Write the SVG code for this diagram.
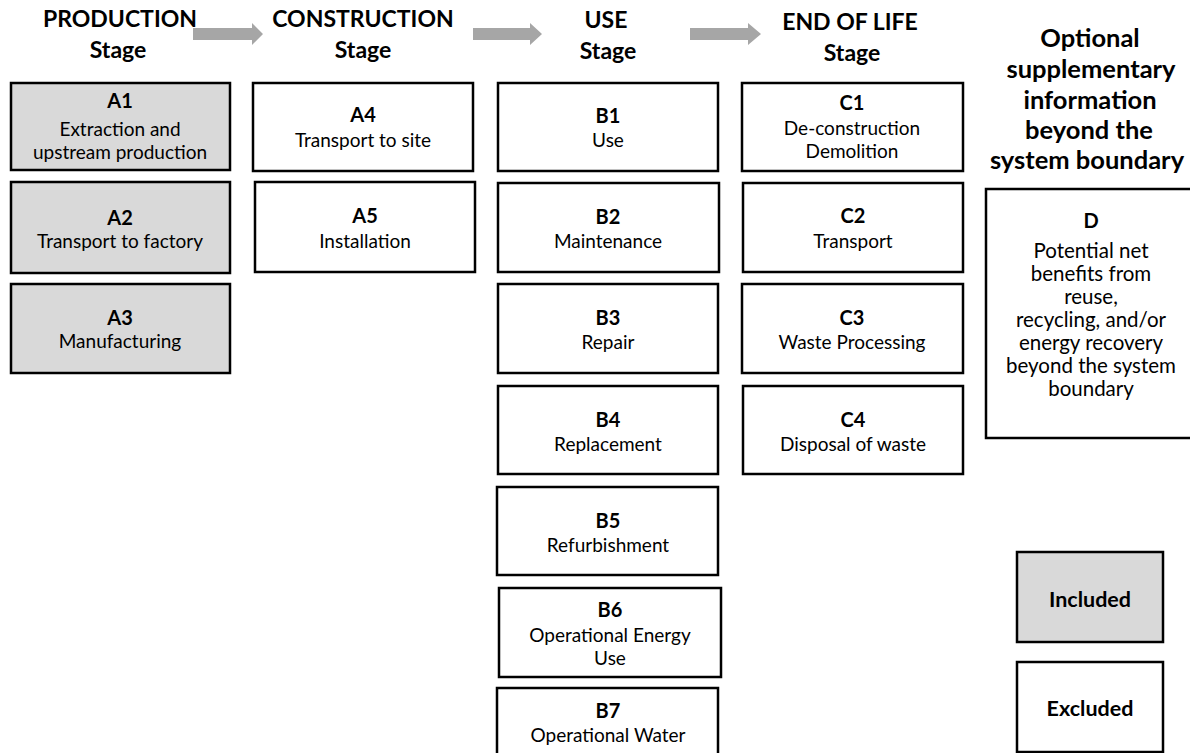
<svg xmlns="http://www.w3.org/2000/svg" width="1190" height="753" viewBox="0 0 1190 753">
<style>
.box{stroke:#000;stroke-width:2.5;fill:#fff}
.inc{fill:#d9d9d9}
.t{font-family:Lato,"Liberation Sans",sans-serif;font-size:19px;fill:#000;text-anchor:middle}
.b{font-weight:bold;font-size:20px}
.d{font-size:20.5px}
.lg{font-weight:bold;font-size:21.5px}
.h{font-family:Lato,"Liberation Sans",sans-serif;font-size:23px;font-weight:bold;fill:#000;text-anchor:middle}
.o{font-size:25.5px}
.arr{fill:#a6a6a6}
</style>
<rect width="1190" height="753" fill="#fff"/>
<g id="connectors">
<polygon class="arr" points="193,28 252,28 252,23 263,34 252,45 252,40 193,40"/>
<polygon class="arr" points="473,28 530,28 530,23 542,34 530,45 530,40 473,40"/>
<polygon class="arr" points="690,28 748,28 748,23 761,34 748,45 748,40 690,40"/>
</g>
<g id="title-production"><text class="h" x="120" y="27">PRODUCTION</text><text class="h" x="118" y="58">Stage</text></g>
<g id="title-construction"><text class="h" x="363" y="27">CONSTRUCTION</text><text class="h" x="363" y="58">Stage</text></g>
<g id="title-use"><text class="h" x="606" y="28">USE</text><text class="h" x="608" y="59">Stage</text></g>
<g id="title-eol"><text class="h" x="850" y="30">END OF LIFE</text><text class="h" x="852" y="61">Stage</text></g>
<g id="title-optional"><text class="h o" x="1090" y="47">Optional</text><text class="h o" x="1091" y="78">supplementary</text><text class="h o" x="1090" y="109">information</text><text class="h o" x="1089" y="139">beyond the</text><text class="h o" x="1087" y="169">system boundary</text></g>

<g id="A1"><rect class="box inc" x="11" y="83" width="219" height="87"/><text class="t b" x="120" y="108">A1</text><text class="t" x="120" y="136">Extraction and</text><text class="t" x="120" y="159">upstream production</text></g>
<g id="A2"><rect class="box inc" x="11" y="182" width="219" height="91"/><text class="t b" x="120" y="225">A2</text><text class="t" x="120" y="248">Transport to factory</text></g>
<g id="A3"><rect class="box inc" x="11" y="284" width="219" height="89"/><text class="t b" x="120" y="325">A3</text><text class="t" x="120" y="348">Manufacturing</text></g>

<g id="A4"><rect class="box" x="253" y="83" width="220" height="88"/><text class="t b" x="363" y="122">A4</text><text class="t" x="363" y="147">Transport to site</text></g>
<g id="A5"><rect class="box" x="255" y="182" width="220" height="90"/><text class="t b" x="365" y="223">A5</text><text class="t" x="365" y="248">Installation</text></g>

<g id="B1"><rect class="box" x="498" y="83" width="220" height="88"/><text class="t b" x="608" y="123">B1</text><text class="t" x="608" y="147">Use</text></g>
<g id="B2"><rect class="box" x="498" y="183" width="221" height="89"/><text class="t b" x="608" y="224">B2</text><text class="t" x="608" y="248">Maintenance</text></g>
<g id="B3"><rect class="box" x="498" y="284" width="220" height="89"/><text class="t b" x="608" y="325">B3</text><text class="t" x="608" y="349">Repair</text></g>
<g id="B4"><rect class="box" x="498" y="386" width="220" height="88"/><text class="t b" x="608" y="427">B4</text><text class="t" x="608" y="451">Replacement</text></g>
<g id="B5"><rect class="box" x="497" y="487" width="221" height="88"/><text class="t b" x="608" y="528">B5</text><text class="t" x="608" y="552">Refurbishment</text></g>
<g id="B6"><rect class="box" x="499" y="588" width="222" height="89"/><text class="t b" x="610" y="617">B6</text><text class="t" x="610" y="642">Operational Energy</text><text class="t" x="610" y="665">Use</text></g>
<g id="B7"><rect class="box" x="497" y="688" width="221" height="80"/><text class="t b" x="608" y="718">B7</text><text class="t" x="608" y="742">Operational Water</text></g>

<g id="C1"><rect class="box" x="742" y="83" width="221" height="88"/><text class="t b" x="852" y="110">C1</text><text class="t" x="852" y="135">De-construction</text><text class="t" x="852" y="158">Demolition</text></g>
<g id="C2"><rect class="box" x="743" y="183" width="220" height="89"/><text class="t b" x="853" y="223">C2</text><text class="t" x="853" y="248">Transport</text></g>
<g id="C3"><rect class="box" x="742" y="284" width="221" height="89"/><text class="t b" x="852" y="325">C3</text><text class="t" x="852" y="349">Waste Processing</text></g>
<g id="C4"><rect class="box" x="743" y="386" width="220" height="88"/><text class="t b" x="853" y="427">C4</text><text class="t" x="853" y="451">Disposal of waste</text></g>

<g id="D"><rect class="box" x="986" y="189" width="210" height="249"/><text class="t b" x="1091" y="228">D</text><text class="t d" x="1091" y="258">Potential net</text><text class="t d" x="1091" y="281">benefits from</text><text class="t d" x="1091" y="304">reuse,</text><text class="t d" x="1091" y="327">recycling, and/or</text><text class="t d" x="1091" y="350">energy recovery</text><text class="t d" x="1091" y="373">beyond the system</text><text class="t d" x="1091" y="396">boundary</text></g>

<g id="legend-included"><rect class="box inc" x="1017" y="552" width="146" height="90"/><text class="t lg" x="1090" y="607">Included</text></g>
<g id="legend-excluded"><rect class="box" x="1017" y="662" width="146" height="90"/><text class="t lg" x="1090" y="716">Excluded</text></g>
</svg>
